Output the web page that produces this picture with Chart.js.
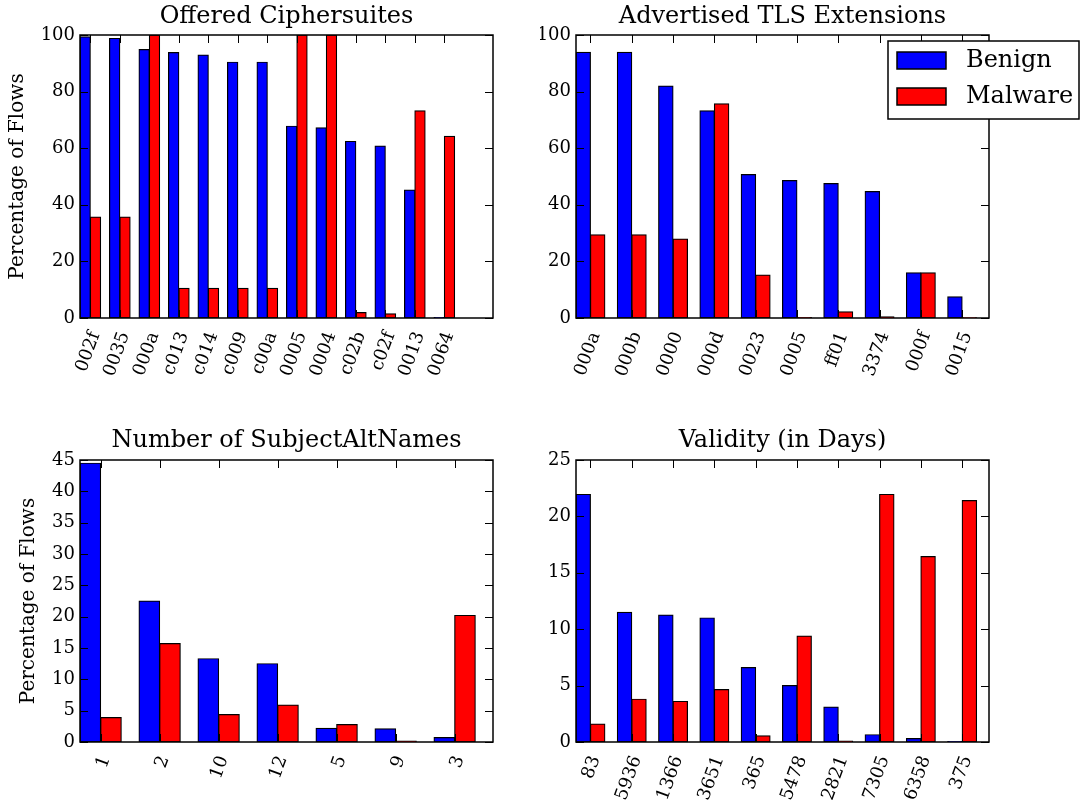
<!DOCTYPE html>
<html>
<head>
<meta charset="utf-8">
<script src="https://cdn.jsdelivr.net/npm/chart.js@4.4.1/dist/chart.umd.min.js"></script>
<style>
  body { margin: 0; background: #fff; }
  #wrap { position: relative; width: 1081px; height: 801px; overflow: hidden; }
  canvas { position: absolute; }
</style>
</head>
<body>
<div id="wrap">
  <canvas id="c1" width="540" height="400" style="left:0;top:0"></canvas>
  <canvas id="c2" width="541" height="400" style="left:540px;top:0"></canvas>
  <canvas id="c3" width="540" height="401" style="left:0;top:400px"></canvas>
  <canvas id="c4" width="541" height="401" style="left:540px;top:400px"></canvas>
</div>
<script>
// data
const cipherLabels = ["002f", "0035", "000a", "c013", "c014", "c009", "c00a", "0005", "0004", "c02b", "c02f", "0013", "0064"];
const cipherBenign = [99.4, 98.8, 94.9, 93.8, 92.9, 90.4, 90.4, 67.8, 67.2, 62.4, 60.8, 45.2, 0.2];
const cipherMalware = [35.7, 35.7, 100, 10.5, 10.5, 10.5, 10.5, 100, 100, 1.9, 1.5, 73.2, 64.2];

const extLabels = ["000a", "000b", "0000", "000d", "0023", "0005", "ff01", "3374", "000f", "0015"];
const extBenign = [93.9, 93.9, 82.0, 73.2, 50.7, 48.6, 47.5, 44.7, 16.0, 7.5];
const extMalware = [29.4, 29.4, 27.9, 75.7, 15.2, 0.2, 2.2, 0.4, 16.0, 0.1];

const sanLabels = ["1", "2", "10", "12", "5", "9", "3"];
const sanBenign = [44.5, 22.5, 13.3, 12.5, 2.2, 2.1, 0.7];
const sanMalware = [3.9, 15.7, 4.4, 5.9, 2.8, 0.15, 20.2];

const validityLabels = ["83", "5936", "1366", "3651", "365", "5478", "2821", "7305", "6358", "375"];
const validityBenign = [21.95, 11.5, 11.25, 11.0, 6.6, 5.0, 3.1, 0.65, 0.3, 0.05];
const validityMalware = [1.6, 3.8, 3.6, 4.65, 0.55, 9.4, 0.08, 21.95, 16.45, 21.4];

const seriesNames = ["Benign", "Malware"];
const seriesColors = ["#0000ff", "#ff0000"];

const serif = "'DejaVu Serif', serif";
const tickFont = { family: serif, size: 18 };

// frame + tick kecil ke dalam (gaya matplotlib)
const frameTicks = {
  id: "frameTicks",
  afterDatasetsDraw(chart) {
    const { ctx, chartArea: a, scales } = chart;
    const len = 8;
    ctx.save();
    ctx.strokeStyle = "#000";
    ctx.lineWidth = 1;
    ctx.beginPath();
    scales.x.ticks.forEach((t) => {
      const px = Math.round(scales.x.getPixelForValue(t.value)) + 0.5;
      ctx.moveTo(px, a.top);
      ctx.lineTo(px, a.top + len);
      ctx.moveTo(px, a.bottom);
      ctx.lineTo(px, a.bottom - len);
    });
    scales.y.ticks.forEach((t) => {
      const py = Math.round(scales.y.getPixelForValue(t.value)) + 0.5;
      ctx.moveTo(a.left, py);
      ctx.lineTo(a.left + len, py);
      ctx.moveTo(a.right, py);
      ctx.lineTo(a.right - len, py);
    });
    ctx.stroke();
    ctx.lineWidth = 1.5;
    ctx.strokeRect(Math.round(a.left), Math.round(a.top),
      Math.round(a.right - a.left), Math.round(a.bottom - a.top));
    ctx.restore();
  },
};

// legend kotak di kanan atas (keluar dari area plot)
const boxLegend = {
  id: "boxLegend",
  afterDraw(chart) {
    const { ctx, chartArea: a } = chart;
    const left = Math.round(a.right - 101);
    const top = Math.round(a.top + 6);
    ctx.save();
    ctx.fillStyle = "#fff";
    ctx.fillRect(left, top, 191, 78);
    ctx.strokeStyle = "#000";
    ctx.lineWidth = 1.5;
    ctx.strokeRect(left, top, 191, 78);
    ctx.font = "24px " + serif;
    ctx.textBaseline = "middle";
    chart.data.datasets.forEach((ds, i) => {
      const y = top + 11 + i * 36;
      ctx.fillStyle = ds.backgroundColor;
      ctx.fillRect(left + 9, y, 49, 17);
      ctx.strokeRect(left + 9, y, 49, 17);
      ctx.fillStyle = "#000";
      ctx.fillText(ds.label, left + 78, y + 9);
    });
    ctx.restore();
  },
};

function makeChart(id, cfg) {
  const datasets = [cfg.benign, cfg.malware].map((vals, k) => ({
    label: seriesNames[k],
    data: vals.map((v, i) => ({ x: i + 0.35, y: v })),
    backgroundColor: seriesColors[k],
    borderColor: "#000",
    borderWidth: 1.2,
    borderSkipped: false,
    inflateAmount: 0.5,
    categoryPercentage: 0.7,
    barPercentage: 1.0,
  }));

  return new Chart(document.getElementById(id), {
    type: "bar",
    data: { datasets: datasets },
    plugins: cfg.legend ? [frameTicks, boxLegend] : [frameTicks],
    options: {
      responsive: false,
      animation: false,
      layout: { padding: { left: cfg.padLeft, right: cfg.padRight, top: 0, bottom: 0 } },
      plugins: {
        legend: { display: false },
        tooltip: { enabled: false },
        title: {
          display: true,
          text: cfg.title,
          fullSize: false,
          color: "#000",
          font: { family: serif, size: 24, weight: "normal", lineHeight: 1.2 },
          padding: cfg.titlePad,
        },
      },
      scales: {
        x: {
          type: "linear",
          min: 0,
          max: cfg.xMax,
          offset: false,
          grid: { display: false, drawTicks: false, offset: false },
          border: { display: false },
          afterBuildTicks: (s) => {
            s.ticks = cfg.labels.map((l, i) => ({ value: i + 0.35 }));
          },
          afterFit: (s) => {
            s.height = cfg.xHeight;
          },
          ticks: {
            autoSkip: false,
            minRotation: 70,
            maxRotation: 70,
            padding: 11,
            labelOffset: 5,
            color: "#000",
            font: tickFont,
            callback: (v, i) => cfg.labels[i],
          },
        },
        y: {
          min: 0,
          max: cfg.yMax,
          grid: { display: false, drawTicks: false },
          border: { display: false },
          ticks: { stepSize: cfg.yStep, padding: 5, color: "#000", font: tickFont },
          title: {
            display: !!cfg.yTitle,
            text: cfg.yTitle,
            color: "#000",
            font: { family: serif, size: 20 },
            padding: { top: 0, bottom: 0 },
          },
          afterFit: (s) => {
            s.width = cfg.yWidth;
          },
        },
      },
    },
  });
}

makeChart("c1", {
  title: "Offered Ciphersuites", labels: cipherLabels, benign: cipherBenign, malware: cipherMalware,
  xMax: 14, yMax: 100, yStep: 20, yTitle: "Percentage of Flows",
  padLeft: 6, yWidth: 74, padRight: 47, xHeight: 82, titlePad: { top: 2.6, bottom: 3.6 },
});
makeChart("c2", {
  title: "Advertised TLS Extensions", labels: extLabels, benign: extBenign, malware: extMalware,
  xMax: 10, yMax: 100, yStep: 20, yTitle: "", legend: true,
  padLeft: 0, yWidth: 36, padRight: 92, xHeight: 82, titlePad: { top: 2.6, bottom: 3.6 },
});
makeChart("c3", {
  title: "Number of SubjectAltNames", labels: sanLabels, benign: sanBenign, malware: sanMalware,
  xMax: 7, yMax: 45, yStep: 5, yTitle: "Percentage of Flows",
  padLeft: 17, yWidth: 63, padRight: 47, xHeight: 59, titlePad: { top: 26.6, bottom: 4.6 },
});
makeChart("c4", {
  title: "Validity (in Days)", labels: validityLabels, benign: validityBenign, malware: validityMalware,
  xMax: 10, yMax: 25, yStep: 5, yTitle: "",
  padLeft: 0, yWidth: 36, padRight: 92, xHeight: 59, titlePad: { top: 26.6, bottom: 4.6 },
});
</script>
</body>
</html>
